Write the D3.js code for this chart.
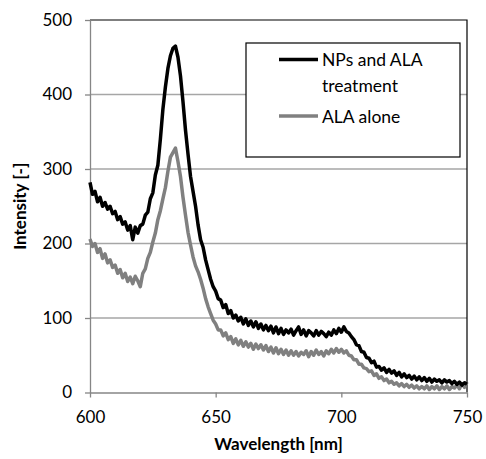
<!DOCTYPE html>
<meta charset="utf-8">
<html>
<head>
<script type="text/javascript" src="https://d3js.org/d3.v7.js"></script>
<style>
  body { margin: 0; background: white; }
  text { font-family: Lato, "Open Sans", sans-serif; fill: #000; }
</style>
</head>
<body>
<div id="plotArea"></div>
<script>

  // wavelength [nm], one reading per nm from 600 to 750
  var wavelength = d3.range(600, 751, 1);

  // NPs and ALA treatment
  var npsAla = [
    282,266,270,256,262,250,255,246,250,240,
    243,232,236,226,229,218,224,205,222,214,
    224,226,238,242,260,268,292,305,340,380,
    410,435,452,462,465,450,425,390,352,320,
    290,270,250,225,205,195,178,165,152,142,
    136,126,124,114,118,106,110,100,104,96,
    101,92,99,90,96,88,95,86,92,84,
    90,83,89,80,88,79,86,78,84,80,
    85,77,83,88,78,84,76,83,80,76,
    83,77,82,79,75,81,77,84,79,86,
    81,88,82,80,75,71,64,63,55,54,
    47,46,40,42,34,35,30,33,27,31,
    26,29,23,27,21,25,20,23,18,22,
    17,21,16,20,15,19,14,18,15,17,
    13,17,14,16,12,15,11,14,10,13,
    11
  ];

  // ALA alone
  var alaAlone = [
    206,196,200,188,193,180,186,174,178,168,
    171,160,165,154,160,149,155,146,156,150,
    142,160,166,180,188,202,214,232,244,260,
    275,297,316,322,328,310,290,262,238,215,
    198,182,170,162,152,140,126,115,106,97,
    92,84,84,76,80,71,75,66,72,64,
    70,62,68,61,66,58,65,59,64,57,
    63,55,61,53,60,52,58,51,57,50,
    56,50,55,49,54,51,56,48,55,50,
    57,51,55,49,56,52,58,53,59,54,
    58,53,56,50,49,44,44,38,38,33,
    32,28,29,23,25,19,21,16,18,13,
    15,11,13,9,12,8,11,7,10,6,
    9,5,8,5,9,4,8,5,9,4,
    8,5,9,4,8,6,10,5,12,7,
    14
  ];

  var xTicks = [600, 650, 700, 750];
  var yTicks = [0, 100, 200, 300, 400, 500];
  var seriesNames = ['NPs and ALA treatment', 'ALA alone'];
  var seriesColors = ['#000000', '#808080'];

  const W = 486, H = 459;
  const margin = {top: 20, right: 19, bottom: 66.5, left: 90},
        width = W - margin.left - margin.right,
        height = H - margin.top - margin.bottom;

  const svg0 = d3.select("#plotArea")
                 .append("svg")
                 .attr("width", W)
                 .attr("height", H);
  const svg = svg0.append("g")
                  .attr("transform", `translate(${margin.left}, ${margin.top})`);

  var xScale = d3.scaleLinear().domain([600, 750]).range([0, width]);
  var yScale = d3.scaleLinear().domain([0, 500]).range([height, 0]);

  // gridlines
  svg.append('g').selectAll('line')
     .data(yTicks.filter(function(d){ return d > 0 && d < 500; }))
     .enter().append('line')
     .attr('x1', 0).attr('x2', width)
     .attr('y1', function(d){ return yScale(d); })
     .attr('y2', function(d){ return yScale(d); })
     .attr('stroke', '#a6a6a6').attr('stroke-width', 1.3);

  // plot area frame (top and right)
  svg.append('path')
     .attr('d', `M0,${yScale(500)}H${width}V${height}`)
     .attr('fill', 'none').attr('stroke', '#000').attr('stroke-width', 1.2);

  // axes
  var xAxis = svg.append('g')
     .attr('transform', 'translate(0,' + height + ')')
     .call(d3.axisBottom(xScale).tickValues(xTicks).tickSize(5).tickPadding(13).tickSizeOuter(0));
  var yAxis = svg.append('g')
     .call(d3.axisLeft(yScale).tickValues(yTicks).tickSize(5).tickPadding(13).tickSizeOuter(0));

  [xAxis, yAxis].forEach(function(a){
    a.select('.domain').attr('stroke', '#868686').attr('stroke-width', 1.3);
    a.selectAll('.tick line').attr('stroke', '#868686').attr('stroke-width', 1.3);
    a.selectAll('.tick text').style('font-size', '17px').style('font-family', 'Lato, sans-serif').attr('fill', '#000');
  });
  xAxis.selectAll('.tick text').attr('dy', '0.71em');

  // legend box (drawn before the curves so they stay visible underneath it in order)
  svg0.append('rect')
      .attr('x', 246).attr('y', 43).attr('width', 214).attr('height', 114)
      .attr('fill', 'white').attr('stroke', '#000').attr('stroke-width', 1.2);

  // lines
  var line = d3.line()
     .x(function(d){ return xScale(d[0]); })
     .y(function(d){ return yScale(d[1]); });

  var allSeries = [d3.zip(wavelength, npsAla), d3.zip(wavelength, alaAlone)];
  // draw grey first so the black one sits on top
  [1, 0].forEach(function(i){
    svg.append('path')
       .datum(allSeries[i])
       .attr('d', line)
       .attr('fill', 'none')
       .attr('stroke', seriesColors[i])
       .attr('stroke-width', 3.5)
       .attr('stroke-linejoin', 'round');
  });

  // axis titles
  svg0.append('text')
      .attr('x', margin.left + width / 2)
      .attr('y', 450)
      .style('text-anchor', 'middle')
      .style('font-size', '17px')
      .style('font-weight', 'bold')
      .text('Wavelength [nm]');

  svg0.append('text')
      .attr('transform', 'translate(26,' + (margin.top + height / 2) + ') rotate(-90)')
      .style('text-anchor', 'middle')
      .style('font-size', '17px')
      .style('font-weight', 'bold')
      .text('Intensity [-]');

  // legend entries
  var legendRows = [
    {y: 59.5, lines: ['NPs and ALA', 'treatment']},
    {y: 116, lines: ['ALA alone']}
  ];
  legendRows.forEach(function(r, i){
    svg0.append('line')
        .attr('x1', 279).attr('x2', 318)
        .attr('y1', r.y).attr('y2', r.y)
        .attr('stroke', seriesColors[i]).attr('stroke-width', 3.5);
    r.lines.forEach(function(t, j){
      svg0.append('text')
          .attr('x', 322)
          .attr('y', r.y + 6.5 + j * 26)
          .style('font-size', '17.5px')
          .text(t);
    });
  });

</script>
</body>
</html>
